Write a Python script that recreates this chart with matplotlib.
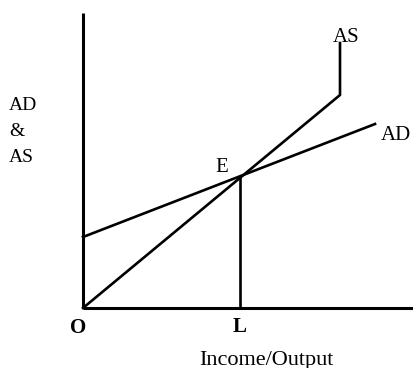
import matplotlib.pyplot as plt

plt.rcParams['font.family'] = ['Liberation Serif', 'DejaVu Serif']

# diagram coordinates, origin O at (0, 0)
as_x = [0, 257, 257]
as_y = [0, 213, 265]
ad_x = [0, 292]
ad_y = [71, 184]
e_point = (157, 131)
y_axis_top = 295
x_axis_end = 330

fig = plt.figure(figsize=(4.14, 3.68), dpi=100)
ax = fig.add_axes([0, 0, 1, 1])
ax.set_xlim(-83, 331)
ax.set_ylim(-60, 308)
ax.axis('off')

# axes
ax.plot([0, 0], [0, y_axis_top], c='k', lw=2.2, solid_capstyle='butt')
ax.plot([0, x_axis_end], [0, 0], c='k', lw=2.2, solid_capstyle='butt')

# curves
ax.plot(as_x, as_y, c='k', lw=1.9)
ax.plot(ad_x, ad_y, c='k', lw=1.9)
ax.plot([e_point[0], e_point[0]], [0, e_point[1]], c='k', lw=1.9)

fs = 15
ax.text(-74, 203, 'AD', fontsize=14, ha='left', va='center')
ax.text(-74, 176, '&', fontsize=14, ha='left', va='center')
ax.text(-74, 151, 'AS', fontsize=14, ha='left', va='center')
ax.text(139, 141, 'E', fontsize=fs, ha='center', va='center')
ax.text(263, 271, 'AS', fontsize=fs, ha='center', va='center')
ax.text(313, 173, 'AD', fontsize=fs, ha='center', va='center')
ax.text(-5, -20, 'O', fontsize=fs, ha='center', va='center', fontweight='bold')
ax.text(e_point[0], -19, 'L', fontsize=fs, ha='center', va='center', fontweight='bold')
ax.text(183, -52, 'Income/Output', fontsize=16, ha='center', va='center')

fig.savefig('out.png', dpi=100)
